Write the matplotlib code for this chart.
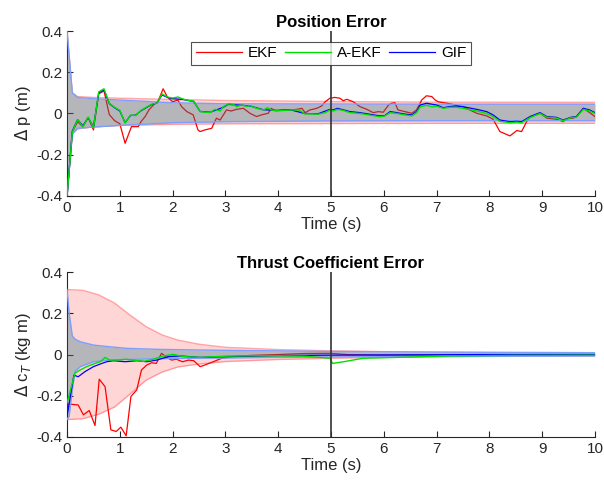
import numpy as np
import matplotlib
matplotlib.use("Agg")
import matplotlib.pyplot as plt

plt.rcParams['font.family'] = ['Liberation Sans', 'DejaVu Sans']

# ---------- Position error (top) ----------
t_ekf_p = [0.0, 0.1, 0.2, 0.3, 0.4, 0.5, 0.6, 0.7, 0.8, 0.9, 1.0, 1.1, 1.22, 1.35, 1.4, 1.48,
           1.55, 1.67, 1.72, 1.82, 1.9, 2.0, 2.1, 2.17, 2.27, 2.39, 2.48, 2.52, 2.61, 2.74,
           2.83, 2.9, 3.02, 3.11, 3.21, 3.34, 3.47, 3.59, 3.68, 3.81, 3.87, 3.94, 4.1, 4.23,
           4.35, 4.45, 4.51, 4.6, 4.73, 4.82, 4.89, 4.98, 5.07, 5.17, 5.23, 5.3, 5.42, 5.55,
           5.68, 5.8, 5.9, 5.99, 6.09, 6.15, 6.21, 6.27, 6.4, 6.53, 6.62, 6.72, 6.81, 6.91,
           6.97, 7.03, 7.19, 7.3, 7.4, 7.5, 7.63, 7.76, 7.95, 8.07, 8.2, 8.39, 8.52, 8.61,
           8.74, 8.83, 8.96, 9.09, 9.27, 9.4, 9.46, 9.59, 9.65, 9.78, 9.9, 10.0]
ekf_p = [-0.40, -0.09, -0.04, -0.065, -0.02, -0.08, 0.095, 0.11, -0.005, -0.035, -0.05, -0.145,
         -0.064, -0.064, -0.04, -0.015, 0.017, 0.05, 0.057, 0.12, 0.08, 0.057, 0.065, 0.033,
         0.009, -0.007, -0.08, -0.088, -0.08, -0.072, -0.023, -0.032, 0.017, 0.012, 0.02,
         0.025, 0.0, -0.015, -0.007, 0.001, 0.025, 0.013, 0.017, 0.017, 0.02, 0.025, 0.004,
         0.017, 0.025, 0.036, 0.057, 0.074, 0.078, 0.074, 0.062, 0.069, 0.057, 0.033, 0.02,
         0.004, 0.009, 0.006, 0.041, 0.05, 0.052, 0.017, 0.009, 0.001, 0.017, 0.066, 0.086,
         0.082, 0.066, 0.057, 0.05, 0.045, 0.036, 0.033, 0.017, 0.001, -0.012, -0.028, -0.088,
         -0.109, -0.083, -0.088, -0.023, -0.012, 0.001, -0.023, -0.028, -0.04, -0.025, -0.023,
         -0.015, 0.025, 0.004, -0.015]

t_aekf_p = [0.0, 0.1, 0.2, 0.3, 0.4, 0.5, 0.6, 0.7, 0.8, 0.9, 1.0, 1.1, 1.2, 1.3, 1.4, 1.5,
            1.6, 1.7, 1.8, 1.9, 2.0, 2.1, 2.2, 2.3, 2.4, 2.52, 2.71, 2.8, 2.9, 2.96, 3.05,
            3.15, 3.21, 3.31, 3.4, 3.47, 3.59, 3.72, 3.8, 3.87, 4.0, 4.23, 4.4, 4.5, 4.65,
            4.75, 4.89, 4.98, 5.04, 5.12, 5.23, 5.36, 5.55, 5.74, 5.93, 6.02, 6.12, 6.25,
            6.37, 6.53, 6.62, 6.69, 6.81, 6.91, 7.0, 7.13, 7.25, 7.38, 7.5, 7.76, 7.95, 8.07,
            8.2, 8.39, 8.52, 8.61, 8.77, 8.96, 9.09, 9.27, 9.4, 9.55, 9.65, 9.78, 9.9, 10.0]
aekf_p = [-0.40, -0.09, -0.03, -0.065, -0.017, -0.07, 0.105, 0.12, 0.05, 0.03, 0.015, -0.047,
          -0.008, -0.01, 0.015, 0.03, 0.045, 0.05, 0.095, 0.08, 0.075, 0.08, 0.07, 0.063, 0.06,
          0.009, 0.004, 0.02, 0.012, 0.033, 0.046, 0.045, 0.033, 0.041, 0.035, 0.038, 0.025,
          0.017, 0.028, 0.017, 0.013, 0.017, 0.017, -0.002, -0.002, -0.004, 0.004, 0.017,
          0.012, 0.02, 0.015, 0.004, 0.0, -0.008, -0.016, -0.012, 0.004, 0.0, -0.006, -0.012,
          0.004, 0.032, 0.04, 0.032, 0.035, 0.025, 0.03, 0.03, 0.025, 0.012, 0.0, -0.015,
          -0.038, -0.045, -0.042, -0.045, -0.02, 0.0, -0.018, -0.022, -0.035, -0.02, -0.018,
          0.02, 0.012, 0.0]

t_gif_p = [0.0, 0.1, 0.2, 0.3, 0.4, 0.5, 0.6, 0.7, 0.8, 0.9, 1.0, 1.1, 1.2, 1.3, 1.4, 1.5,
           1.6, 1.7, 1.8, 1.9, 2.0, 2.2, 2.4, 2.52, 2.71, 2.96, 3.05, 3.31, 3.47, 3.72, 4.0,
           4.23, 4.5, 4.75, 4.98, 5.04, 5.12, 5.23, 5.36, 5.55, 5.74, 5.93, 6.02, 6.12, 6.25,
           6.37, 6.53, 6.62, 6.69, 6.81, 6.91, 7.0, 7.13, 7.25, 7.38, 7.5, 7.76, 7.95, 8.07,
           8.2, 8.39, 8.52, 8.61, 8.77, 8.96, 9.09, 9.27, 9.4, 9.55, 9.65, 9.78, 9.9, 10.0]
gif_p = [-0.40, -0.085, -0.03, -0.06, -0.02, -0.065, 0.1, 0.115, 0.048, 0.028, 0.012, -0.045,
         -0.01, -0.008, 0.013, 0.028, 0.043, 0.05, 0.09, 0.078, 0.072, 0.068, 0.058, 0.01,
         0.006, 0.03, 0.044, 0.04, 0.036, 0.018, 0.015, 0.018, 0.0, -0.002, 0.02, 0.017,
         0.025, 0.018, 0.009, 0.004, -0.004, -0.012, -0.01, 0.009, 0.004, -0.002, -0.007,
         0.009, 0.041, 0.05, 0.045, 0.041, 0.028, 0.034, 0.036, 0.033, 0.02, 0.009, -0.007,
         -0.032, -0.04, -0.038, -0.04, -0.015, 0.004, -0.015, -0.019, -0.032, -0.018, -0.015,
         0.025, 0.017, 0.004]

t_bnd_p = [0.0, 0.1, 0.2, 0.5, 1.0, 2.0, 3.0, 5.0, 7.0, 10.0]
ekf_up_p = [0.40, 0.10, 0.082, 0.078, 0.074, 0.068, 0.063, 0.058, 0.055, 0.054]
ekf_lo_p = [-0.40, -0.10, -0.075, -0.065, -0.058, -0.053, -0.05, -0.049, -0.048, -0.048]
gif_up_p = [0.40, 0.10, 0.078, 0.072, 0.065, 0.052, 0.047, 0.046, 0.045, 0.045]
gif_lo_p = [-0.40, -0.10, -0.072, -0.066, -0.058, -0.045, -0.04, -0.036, -0.035, -0.035]

# ---------- Thrust coefficient error (bottom) ----------
t_ekf_c = [0.0, 0.21, 0.31, 0.42, 0.53, 0.61, 0.72, 0.83, 0.93, 1.02, 1.12, 1.21, 1.32, 1.41,
           1.51, 1.6, 1.69, 1.79, 1.89, 1.98, 2.07, 2.19, 2.3, 2.4, 2.52, 2.61, 2.77, 2.93,
           3.15, 3.5, 4.0, 4.5, 4.98, 5.3, 6.0, 7.0, 8.0, 9.0, 10.0]
ekf_c = [-0.24, -0.245, -0.293, -0.272, -0.345, -0.12, -0.156, -0.366, -0.374, -0.353, -0.395,
         -0.204, -0.172, -0.075, -0.051, -0.04, -0.043, 0.006, -0.014, -0.027, -0.023, -0.035,
         -0.027, -0.03, -0.059, -0.051, -0.035, -0.018, -0.01, -0.004, 0.0, 0.005, 0.006, 0.0,
         -0.003, -0.002, -0.001, 0.0, 0.0]

t_aekf_c = [0.0, 0.15, 0.25, 0.37, 0.5, 0.63, 0.72, 0.81, 0.95, 1.1, 1.26, 1.45, 1.63, 1.82,
            2.01, 2.2, 2.52, 3.0, 3.5, 4.0, 4.5, 4.98, 5.03, 5.24, 5.61, 6.24, 7.19, 8.5, 10.0]
aekf_c = [-0.235, -0.09, -0.075, -0.059, -0.046, -0.035, -0.014, -0.027, -0.027, -0.023,
          -0.027, -0.033, -0.023, -0.007, 0.001, -0.01, -0.014, -0.008, -0.006, -0.006, -0.008,
          -0.018, -0.043, -0.035, -0.018, -0.014, -0.007, -0.004, -0.003]

t_gif_c = [0.0, 0.13, 0.21, 0.34, 0.5, 0.63, 0.75, 0.88, 1.1, 1.32, 1.51, 1.7, 1.92, 2.14,
           2.52, 3.0, 3.5, 4.0, 4.5, 5.0, 6.0, 7.0, 8.0, 10.0]
gif_c = [-0.3, -0.1, -0.108, -0.083, -0.059, -0.046, -0.035, -0.03, -0.035, -0.03, -0.035,
         -0.027, -0.01, -0.007, -0.014, -0.01, -0.008, -0.005, -0.004, -0.003, -0.002, -0.001,
         0.0, 0.0]

t_bnd_c = [0.0, 0.3, 0.6, 0.9, 1.2, 1.5, 1.8, 2.1, 2.5, 3.0, 4.0, 5.0, 6.0, 7.0, 8.0, 10.0]
ekf_up_c = [0.316, 0.312, 0.29, 0.25, 0.19, 0.135, 0.095, 0.07, 0.05, 0.035, 0.024, 0.018,
            0.014, 0.011, 0.009, 0.006]
ekf_lo_c = [-0.316, -0.312, -0.29, -0.255, -0.19, -0.124, -0.085, -0.06, -0.046, -0.034,
            -0.024, -0.018, -0.014, -0.011, -0.009, -0.006]

t_gbnd_c = [0.0, 0.04, 0.1, 0.15, 0.25, 0.5, 0.8, 1.13, 1.76, 2.52, 3.5, 5.0, 7.0, 10.0]
gif_up_c = [0.316, 0.2, 0.09, 0.075, 0.062, 0.046, 0.038, 0.03, 0.025, 0.022, 0.019, 0.015,
            0.012, 0.009]
gif_lo_c = [-0.316, -0.3, -0.17, -0.083, -0.059, -0.035, -0.027, -0.024, -0.02, -0.018,
            -0.015, -0.012, -0.009, -0.007]

RED = '#ff0000'
GREEN = '#00e000'
BLUE = '#0000ff'


def style_axes(ax, ylabel, title):
    ax.set_xlim(0, 10)
    ax.set_ylim(-0.4, 0.4)
    ax.set_xticks(range(0, 11))
    ax.set_yticks([-0.4, -0.2, 0, 0.2, 0.4])
    ax.set_yticklabels(['-0.4', '-0.2', '0', '0.2', '0.4'])
    for s in ['top', 'right']:
        ax.spines[s].set_visible(False)
    for s in ['left', 'bottom']:
        ax.spines[s].set_color('#262626')
        ax.spines[s].set_linewidth(0.8)
    ax.tick_params(direction='in', length=4, width=0.8, colors='#262626', labelsize=11,
                   labelcolor='#262626')
    ax.set_xlabel('Time (s)', fontsize=12, color='#262626', labelpad=2)
    ax.set_ylabel(ylabel, fontsize=12, color='#262626', labelpad=2)
    ax.set_title(title, fontsize=12, fontweight='bold', pad=3)
    ax.axvline(5, color='#333333', lw=1.2, zorder=6)


def draw(ax, tb, eu, el, tg, gu, gl, te, e, ta, a, tgl, g):
    # EKF covariance band (pink), kept out of the GIF band so the grey stays neutral
    ax.fill_between(tb, el, eu, color='#ff9999', alpha=0.4, lw=0, zorder=1)
    ax.plot(tb, eu, color='#ff8080', lw=1.0, alpha=0.7, zorder=1)
    ax.plot(tb, el, color='#ff8080', lw=1.0, alpha=0.7, zorder=1)
    ax.fill_between(tg, gl, gu, color='white', lw=0, zorder=1.5)
    l1, = ax.plot(te, e, color=RED, lw=0.9, zorder=2, label='EKF')
    ax.fill_between(tg, gl, gu, color='#5c5f66', alpha=0.45, lw=0, zorder=3)
    ax.plot(tg, gu, color='#7f9cff', lw=1.0, zorder=3)
    ax.plot(tg, gl, color='#7f9cff', lw=1.0, zorder=3)
    l3, = ax.plot(tgl, g, color=BLUE, lw=0.9, zorder=4, label='GIF')
    l2, = ax.plot(ta, a, color=GREEN, lw=1.0, zorder=5, label='A-EKF')
    return l1, l2, l3


fig = plt.figure(figsize=(6.04, 4.87), dpi=100)
ax1 = fig.add_axes([0.111, 0.598, 0.874, 0.338])
ax2 = fig.add_axes([0.111, 0.103, 0.874, 0.338])

h = draw(ax1, t_bnd_p, ekf_up_p, ekf_lo_p, t_bnd_p, gif_up_p, gif_lo_p,
         t_ekf_p, ekf_p, t_aekf_p, aekf_p, t_gif_p, gif_p)
style_axes(ax1, r'$\Delta$ p (m)', 'Position Error')
leg = ax1.legend(h, ['EKF', 'A-EKF', 'GIF'], ncol=3, loc='upper center',
                 bbox_to_anchor=(0.5, 0.955), fontsize=11, frameon=True, fancybox=False,
                 edgecolor='#262626', handlelength=3.0, columnspacing=0.5,
                 handletextpad=0.4, borderpad=0.3, borderaxespad=0.2)
leg.get_frame().set_linewidth(0.8)
leg.set_zorder(10)

draw(ax2, t_bnd_c, ekf_up_c, ekf_lo_c, t_gbnd_c, gif_up_c, gif_lo_c,
     t_ekf_c, ekf_c, t_aekf_c, aekf_c, t_gif_c, gif_c)
style_axes(ax2, r'$\Delta$ c$_T$ (kg m)', 'Thrust Coefficient Error')

fig.savefig('out.png', dpi=100)
